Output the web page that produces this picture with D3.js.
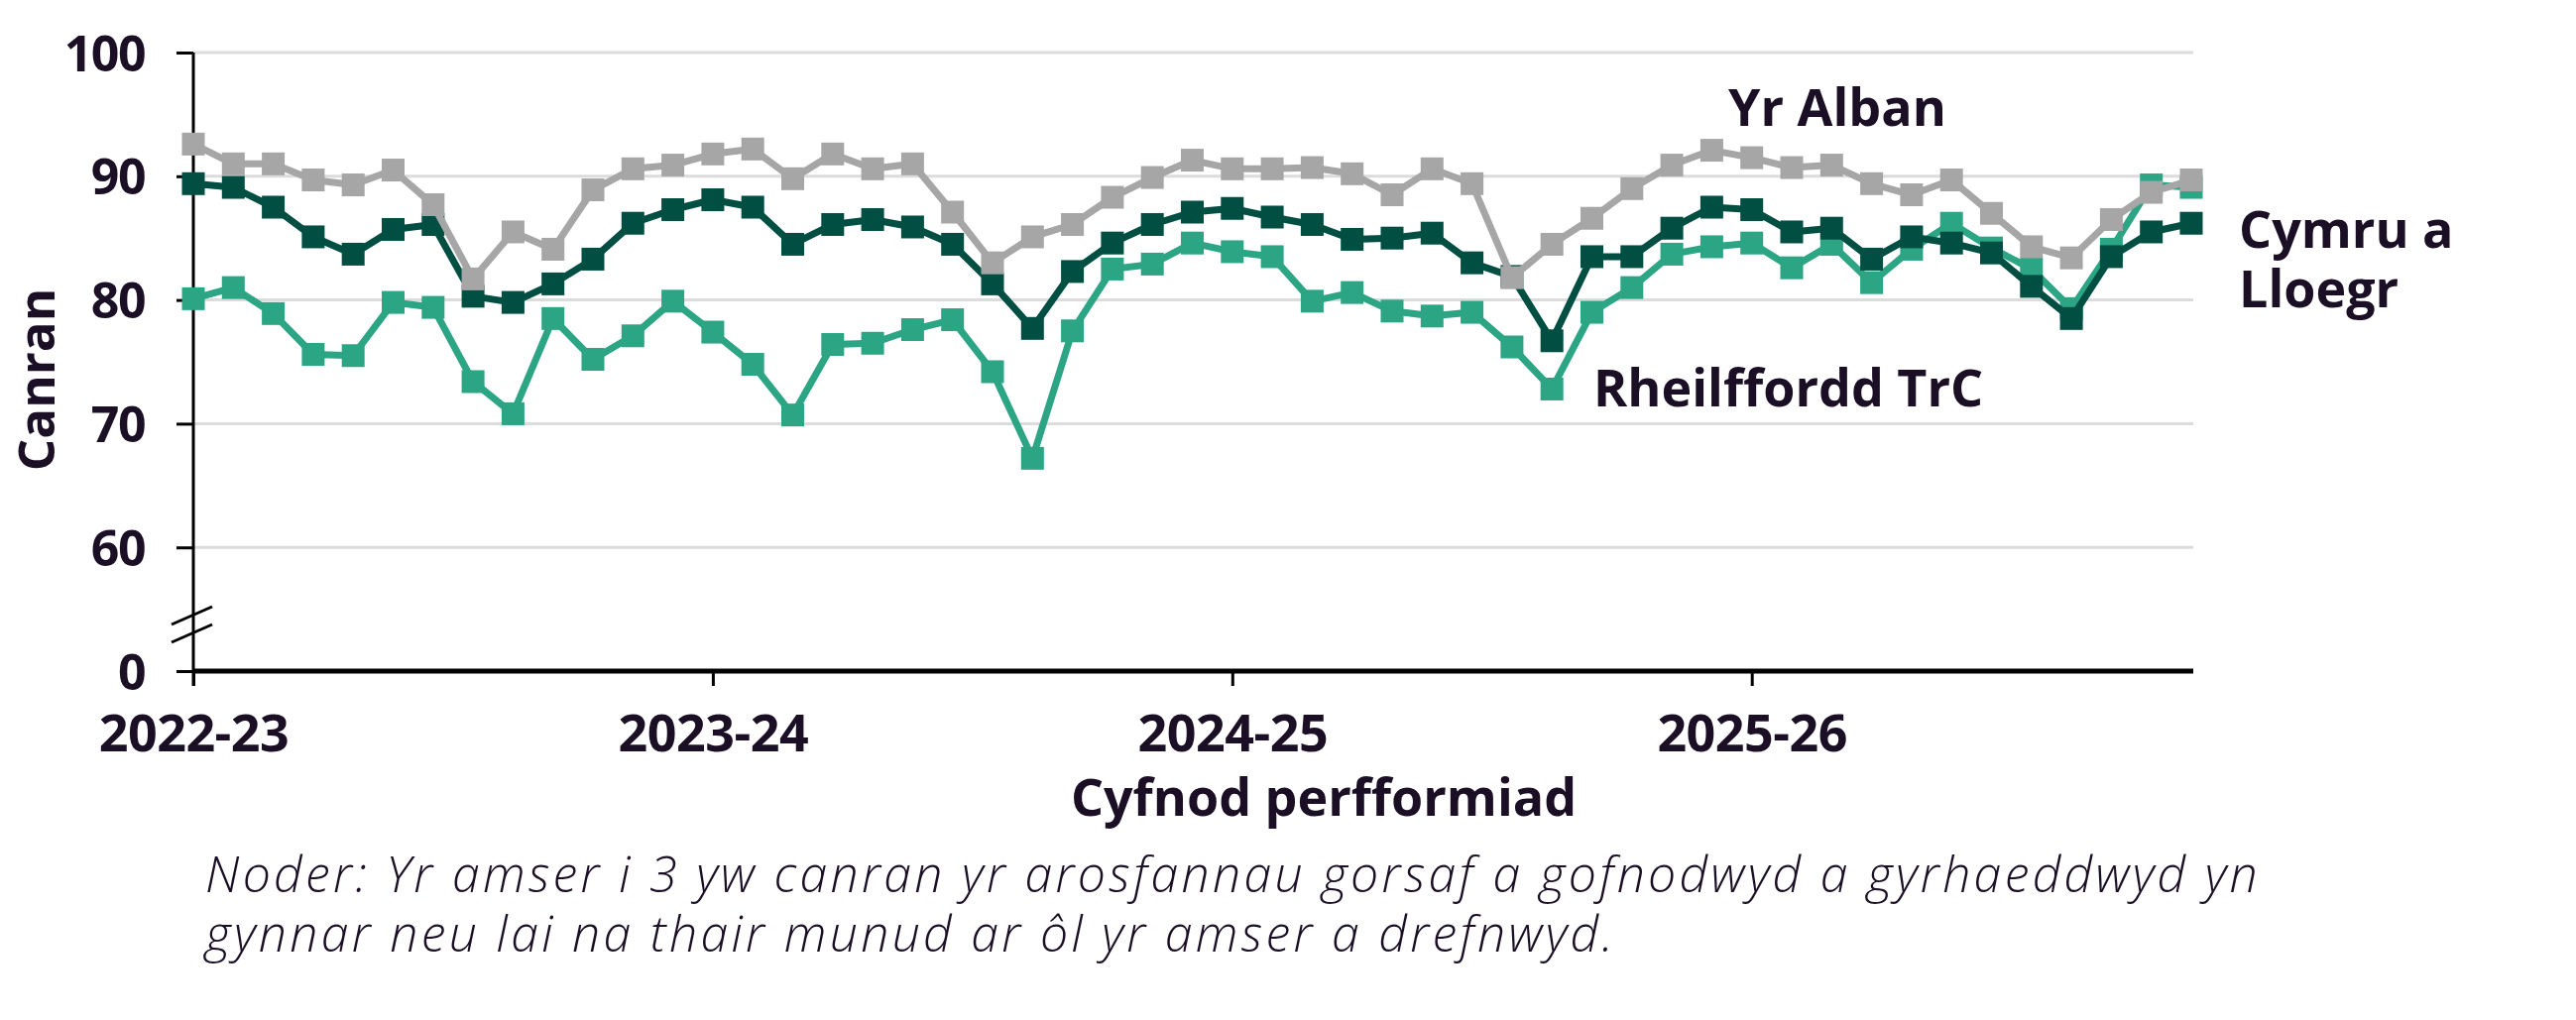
<!DOCTYPE html>
<html lang="cy">
<head>
<meta charset="utf-8">
<title>Cyfnod perfformiad</title>
<script src="https://d3js.org/d3.v7.min.js"></script>
<style>
  body { margin: 0; background: #fff; }
  text { font-family: "Open Sans", Lato, sans-serif; fill: #1b0f25; }
</style>
</head>
<body>
<div id="chart"></div>
<script>
// periods 0..50 (13 periods per year), year labels on the first period of each year
var yearLabels = ["2022-23", "2023-24", "2024-25", "2025-26"];
var periodsPerYear = 13;

var yrAlban = [92.6, 91.0, 91.0, 89.7, 89.3, 90.5, 87.7, 81.7, 85.5, 84.1,
               88.9, 90.6, 90.9, 91.8, 92.2, 89.8, 91.8, 90.6, 91.0, 87.1,
               83.0, 85.1, 86.1, 88.3, 89.9, 91.3, 90.6, 90.6, 90.7, 90.2,
               88.5, 90.6, 89.4, 81.8, 84.5, 86.6, 89.0, 90.9, 92.1, 91.5,
               90.7, 90.9, 89.4, 88.5, 89.7, 87.0, 84.3, 83.4, 86.5, 88.7, 89.7];

var cymruLloegr = [89.4, 89.1, 87.5, 85.1, 83.7, 85.7, 86.1, 80.3, 79.8, 81.3,
                   83.3, 86.2, 87.3, 88.1, 87.5, 84.5, 86.1, 86.5, 85.9, 84.5,
                   81.3, 77.7, 82.3, 84.6, 86.1, 87.1, 87.4, 86.7, 86.1, 84.9,
                   85.0, 85.4, 83.0, 81.9, 76.7, 83.5, 83.5, 85.8, 87.5, 87.3,
                   85.5, 85.8, 83.3, 85.1, 84.6, 83.8, 81.1, 78.5, 83.5, 85.5, 86.2];

var trc = [80.1, 81.0, 78.9, 75.6, 75.5, 79.8, 79.4, 73.4, 70.8, 78.5,
           75.2, 77.1, 79.9, 77.4, 74.8, 70.7, 76.4, 76.5, 77.6, 78.4,
           74.2, 67.2, 77.5, 82.5, 82.9, 84.6, 83.9, 83.5, 79.9, 80.6,
           79.1, 78.7, 79.0, 76.2, 72.8, 79.0, 81.0, 83.7, 84.3, 84.6,
           82.6, 84.5, 81.4, 84.1, 86.2, 84.2, 82.5, 79.3, 84.1, 89.3, 89.1];

var yTicks = [50, 60, 70, 80, 90, 100];   // 50 is drawn as the broken "0"
var yTickLabels = ["0", "60", "70", "80", "90", "100"];

// drawing order: teal underneath, grey on top
var series = [
  { name: "Rheilffordd TrC", values: trc, color: "#2ca585" },
  { name: "Cymru a Lloegr", values: cymruLloegr, color: "#004f42" },
  { name: "Yr Alban", values: yrAlban, color: "#a6a6a6" }
];

var W = 2598, H = 1029;
var svg = d3.select("#chart").append("svg")
  .attr("width", W).attr("height", H);

var x = d3.scaleLinear().domain([0, trc.length - 1]).range([195, 2210]);
var y = d3.scaleLinear().domain([50, 100]).range([677, 53]);

// gridlines
svg.append("g").selectAll("line")
  .data(yTicks.slice(1))
  .enter().append("line")
  .attr("x1", 195).attr("x2", 2212)
  .attr("y1", function(d) { return y(d); })
  .attr("y2", function(d) { return y(d); })
  .attr("stroke", "#dcdcdc").attr("stroke-width", 3);

// y axis
var yAxis = svg.append("g")
  .attr("transform", "translate(195,0)")
  .call(d3.axisLeft(y).tickValues(yTicks).tickSize(17)
    .tickFormat(function(d, i) { return yTickLabels[i]; }));
yAxis.select(".domain").remove();
yAxis.selectAll(".tick line").attr("stroke", "#000").attr("stroke-width", 3);
yAxis.selectAll(".tick text")
  .attr("x", -49).attr("dy", "0.36em")
  .style("font-size", "50px").style("font-weight", 700)
  .style("letter-spacing", "-1.5px")
  .attr("fill", "#1b0f25");
svg.append("line")
  .attr("x1", 195).attr("x2", 195).attr("y1", y(100)).attr("y2", 692)
  .attr("stroke", "#000").attr("stroke-width", 3);

// axis break marks
[0, 18].forEach(function(off) {
  svg.append("line")
    .attr("x1", 173).attr("y1", 630 + off)
    .attr("x2", 214).attr("y2", 612 + off)
    .attr("stroke", "#000").attr("stroke-width", 3);
});

// x axis
var yearTicks = yearLabels.map(function(d, i) { return i * periodsPerYear; });
var xAxis = svg.append("g")
  .attr("transform", "translate(0,677)")
  .call(d3.axisBottom(x).tickValues(yearTicks).tickSize(15)
    .tickFormat(function(d, i) { return yearLabels[i]; }));
xAxis.select(".domain")
  .attr("d", "M195,0H2212").attr("stroke", "#000").attr("stroke-width", 5);
xAxis.selectAll(".tick line").attr("stroke", "#000").attr("stroke-width", 3);
xAxis.selectAll(".tick text")
  .attr("y", 81).attr("dy", 0)
  .style("font-size", "52px").style("font-weight", 700)
  .style("letter-spacing", "-0.5px")
  .attr("fill", "#1b0f25");

// lines and square markers
var line = d3.line()
  .x(function(d, i) { return x(i); })
  .y(function(d) { return y(d); });

series.forEach(function(s) {
  var g = svg.append("g");
  g.append("path")
    .datum(s.values)
    .attr("d", line)
    .attr("fill", "none")
    .attr("stroke", s.color)
    .attr("stroke-width", 7)
    .attr("stroke-linejoin", "round");
  g.selectAll("rect")
    .data(s.values)
    .enter().append("rect")
    .attr("x", function(d, i) { return x(i) - 11.5; })
    .attr("y", function(d) { return y(d) - 11.5; })
    .attr("width", 23).attr("height", 23)
    .attr("fill", s.color);
});

// multi-line text helper (one text element, one tspan per line)
function multiline(lines, lx, ly, lh) {
  var t = svg.append("text").attr("x", lx).attr("y", ly);
  lines.forEach(function(l, i) {
    t.append("tspan").attr("x", lx).attr("dy", i === 0 ? 0 : lh).text(l);
  });
  return t;
}

// series labels
multiline(["Yr Alban"], 1743, 127, 0)
  .style("font-size", "52px").style("font-weight", 700);
multiline(["Rheilffordd TrC"], 1607, 410, 0)
  .style("font-size", "52px").style("font-weight", 700);
multiline(["Cymru a", "Lloegr"], 2258, 250, 60)
  .style("font-size", "52px").style("font-weight", 700);

// axis titles
svg.append("text")
  .attr("x", 1335).attr("y", 823)
  .attr("text-anchor", "middle")
  .style("font-size", "52px").style("font-weight", 700)
  .text("Cyfnod perfformiad");

svg.append("text")
  .attr("transform", "translate(55,383) rotate(-90)")
  .attr("text-anchor", "middle")
  .style("font-size", "51px").style("font-weight", 700)
  .text("Canran");

// note
var note = [
  "Noder: Yr amser i 3 yw canran yr arosfannau gorsaf a gofnodwyd a gyrhaeddwyd yn",
  "gynnar neu lai na thair munud ar \u00f4l yr amser a drefnwyd."
];
multiline(note, 207, 900, 60)
  .style("font-size", "50px").style("font-style", "italic").style("font-weight", 300)
  .style("letter-spacing", "3.3px");
</script>
</body>
</html>
